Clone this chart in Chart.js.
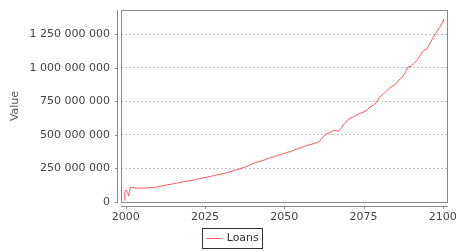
<!DOCTYPE html>
<html>
<head>
<meta charset="utf-8">
<script src="https://cdn.jsdelivr.net/npm/chart.js@4.4.1/dist/chart.umd.min.js"></script>
<style>
  html, body { margin: 0; padding: 0; background: #fff; }
  #wrap { width: 466px; height: 252px; }
</style>
</head>
<body>
<div id="wrap"><canvas id="LoansChart" width="466" height="252"></canvas></div>
<script>
// loans over time (values in millions)
var years = [1999.5, 1999.7, 1999.85, 2000.0, 2000.3, 2000.6, 2000.9, 2001.2, 2001.5,
    2002, 2003, 2004, 2005, 2006, 2007, 2008, 2009, 2010,
    2011, 2012, 2013, 2014, 2015, 2016, 2017, 2018, 2019, 2020,
    2021, 2022, 2023, 2024, 2025, 2026, 2027, 2028, 2029, 2030,
    2031, 2032, 2033, 2034, 2035, 2036, 2037, 2038, 2039, 2040,
    2041, 2042, 2043, 2044, 2045, 2046, 2047, 2048, 2049, 2050,
    2051, 2052, 2053, 2054, 2055, 2056, 2057, 2058, 2059, 2060,
    2061, 2062, 2063, 2064, 2065, 2066, 2067, 2068, 2069, 2070,
    2071, 2072, 2073, 2074, 2075, 2076, 2077, 2078, 2079, 2080,
    2081, 2082, 2083, 2084, 2085, 2086, 2087, 2088, 2089, 2090,
    2091, 2092, 2093, 2094, 2095, 2096, 2097, 2098, 2099, 2100, 2100.3];
var loansMillions = [13, 60, 80, 88, 85, 70, 45, 80, 107,
    108, 104, 104, 103, 104, 106, 108, 109, 112,
    118, 122, 127, 131, 136, 140, 146, 150, 155, 158,
    162, 168, 173, 178, 182, 188, 192, 198, 203, 207,
    213, 220, 227, 233, 240, 247, 256, 264, 275, 286,
    293, 300, 308, 316, 325, 333, 340, 348, 355, 362,
    370, 376, 386, 396, 404, 412, 420, 427, 433, 441,
    450, 478, 505, 512, 528, 534, 526, 552, 585, 612,
    626, 638, 650, 662, 670, 684, 706, 722, 740, 780,
    800, 822, 845, 862, 875, 905, 925, 958, 1005, 1012,
    1035, 1062, 1098, 1130, 1142, 1185, 1228, 1266, 1300, 1342, 1362];
var xTicks = [2000, 2025, 2050, 2075, 2100];
var yTicks = [0, 250000000, 500000000, 750000000, 1000000000, 1250000000];
var seriesName = "Loans";

var points = [];
for (var i in years) {
    points.push({x: years[i], y: loansMillions[i] * 1000000});
}

function spaced(v) {
    return String(v).replace(/\B(?=(\d{3})+(?!\d))/g, " ");
}

// plot frame, offset axis lines, tick marks and legend box (jfreechart look)
var framePlugin = {
    id: "frame",
    afterDraw: function (chart) {
        var ctx = chart.ctx, a = chart.chartArea;
        var xs = chart.scales.x, ys = chart.scales.y;
        ctx.save();
        ctx.strokeStyle = "#888";
        ctx.lineWidth = 1;
        ctx.strokeRect(Math.round(a.left) + 0.5, Math.round(a.top) + 0.5,
            Math.round(a.right - a.left) - 1, Math.round(a.bottom - a.top));
        var axX = Math.round(a.left) - 3.5;
        var axY = Math.round(a.bottom) + 4.5;
        ctx.beginPath();
        ctx.moveTo(axX, a.top); ctx.lineTo(axX, a.bottom + 1);
        ctx.moveTo(a.left, axY); ctx.lineTo(a.right, axY);
        yTicks.forEach(function (t) {
            var py = Math.round(ys.getPixelForValue(t)) + 0.5;
            ctx.moveTo(axX - 2.5, py); ctx.lineTo(axX, py);
        });
        xTicks.forEach(function (t) {
            var px = Math.round(xs.getPixelForValue(t)) + 0.5;
            ctx.moveTo(px, axY); ctx.lineTo(px, axY + 2.5);
        });
        ctx.stroke();
        var hb = chart.legend.legendHitBoxes[0];
        if (hb) {
            var cy = hb.top + hb.height / 2;
            ctx.strokeStyle = "#333";
            ctx.strokeRect(Math.round(hb.left) - 3.5, Math.round(cy) - 10.5,
                Math.round(hb.width) + 7, 20);
        }
        ctx.restore();
    }
};

var ctx = document.getElementById("LoansChart");
var LineGraph = new Chart(ctx, {
    type: "line",
    data: {
        datasets: [{
            label: seriesName,
            data: points,
            borderColor: "#ff5555",
            backgroundColor: "#ff5555",
            borderWidth: 1,
            pointRadius: 0,
            tension: 0,
            fill: false
        }]
    },
    options: {
        responsive: false,
        animation: false,
        layout: { padding: { left: 8, right: 9, top: 10, bottom: -2 } },
        plugins: {
            tooltip: { enabled: false },
            legend: {
                position: "bottom",
                labels: {
                    usePointStyle: true,
                    pointStyle: "line",
                    pointStyleWidth: 15,
                    color: "#333",
                    padding: 1,
                    font: { family: "DejaVu Sans", size: 11 }
                }
            }
        },
        scales: {
            x: {
                type: "linear",
                min: 1998.5,
                max: 2101.5,
                afterBuildTicks: function (scale) {
                    scale.ticks = xTicks.map(function (v) { return {value: v}; });
                },
                afterFit: function (scale) { scale.height = 30; },
                grid: { display: false, drawTicks: false },
                border: { display: false },
                ticks: {
                    color: "#444",
                    padding: 9,
                    maxRotation: 0,
                    autoSkip: false,
                    font: { family: "DejaVu Sans", size: 11 },
                    callback: function (v) { return String(v); }
                }
            },
            y: {
                min: 0,
                max: 1430000000,
                afterBuildTicks: function (scale) {
                    scale.ticks = yTicks.map(function (v) { return {value: v}; });
                },
                afterFit: function (scale) { scale.width = 113; },
                grid: {
                    color: "#c4c4c4",
                    drawTicks: true,
                    tickLength: 11,
                    tickColor: "rgba(0,0,0,0)"
                },
                border: { display: false, dash: [2, 2] },
                title: {
                    display: true,
                    text: "Value",
                    color: "#555",
                    padding: { top: 1, bottom: 0 },
                    font: { family: "DejaVu Sans", size: 11 }
                },
                ticks: {
                    color: "#444",
                    padding: 0,
                    autoSkip: false,
                    font: { family: "DejaVu Sans", size: 11 },
                    callback: function (v) { return spaced(v); }
                }
            }
        }
    },
    plugins: [framePlugin]
});
</script>
</body>
</html>
